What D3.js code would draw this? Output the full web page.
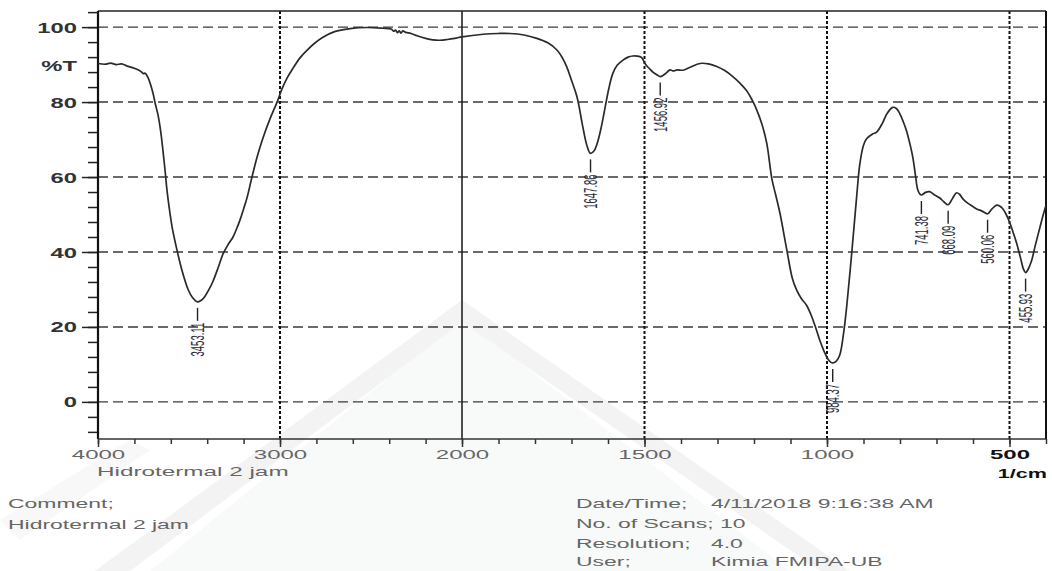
<!DOCTYPE html>
<html><head><meta charset="utf-8">
<script src="https://cdn.jsdelivr.net/npm/d3@7"></script>
<style>
body{margin:0;background:#fff}
svg{display:block}
text{font-family:"Liberation Sans",Arial,Helvetica,sans-serif}
</style></head>
<body><svg id="chart" width="1052" height="571"></svg>
<script>
// ---------- DATA ----------
const wavenumbers = [4000,3960,3930,3900,3870,3840,3810,3780,3760,3750,3740,3725,3710,3698,3685,3670,3655,3643,3630,3621,3605,3593,3566,3538,3505,3480,3453,3430,3412,3390,3368,3340,3313,3285,3258,3240,3220,3200,3181,3154,3125,3093,3055,3016,2989,2960,2929,2890,2852,2810,2764,2700,2615,2520,2434,2390,2375,2365,2355,2345,2335,2325,2310,2280,2247,2200,2160,2121,2080,2040,2000,1942,1900,1869,1830,1795,1765,1740,1725,1713,1700,1685,1669,1658,1648,1638,1628,1618,1609,1598,1587,1575,1559,1545,1532,1515,1507,1500,1494,1485,1477,1465,1457,1448,1440,1430,1422,1410,1395,1375,1348,1325,1302,1280,1258,1240,1220,1205,1192,1178,1165,1151,1140,1129,1110,1095,1083,1070,1056,1042,1030,1020,1008,998,990,984,975,965,955,946,932,919,910,900,891,875,864,848,835,820,810,801,790,782,772,765,757,752,746,741,730,719,705,691,680,668,655,645,637,627,618,600,590,575,560,548,535,527,519,510,500,490,481,470,462,456,450,440,430,416,408,400];
const transmittance = [90.3,90.1,90.4,90.0,90.2,89.6,89.2,88.6,88.0,87.6,87.7,86.5,84.5,82.4,79.5,76.5,72,67,61,56.5,50.5,46.7,40.5,35,30,27.8,26.7,27.2,28.2,30,32.2,35.8,39.5,42,44,46,48.5,51.5,54.5,60,65.5,70.5,75.5,80,83.5,86.5,89,91.8,93.8,95.7,97.3,98.8,99.6,99.9,99.7,99.5,98.9,99.2,98.5,99.0,98.4,99.0,98.6,98.3,97.7,97.0,96.6,96.5,96.7,97.0,97.4,98.1,98.3,98.3,97.9,97.0,95.8,93.9,91.8,89.4,85.8,81.4,73.4,68.5,66.3,67,69.5,73.5,78,83.5,87.6,89.8,91.2,92,92.3,92.2,91.8,90.5,89.7,88.8,88,87.2,86.8,87.2,87.8,88.6,88.3,88.6,88.5,89.3,90.3,90.2,89.5,88.4,86.8,85.2,83,80.5,77.8,74,69,59.5,55,50.4,40.5,33,29.8,27.5,25.8,22.8,19.5,16.5,13.5,11.5,10.6,10.4,10.8,12.5,18,25.5,40,54.5,63.5,68.5,70.3,71.5,72,74.4,77,78.6,78.3,77,74.5,72.3,68.5,65.3,60,56.8,55.5,55.2,55.9,56.1,55.2,54.4,53.4,52.6,54.5,55.8,55.4,54.1,53.3,52.1,51.5,50.9,50.2,51.5,52.5,52.3,51.6,50.2,48,45.2,42.5,38.5,35.5,34.5,35.2,37.5,41.5,46.8,49.8,52.5];

const peakWavenumbers = [3453.11,1647.86,1456.92,984.37,741.38,668.09,560.06,455.93];
const peakLabels = ["3453.11","1647.86","1456.92","984.37","741.38","668.09","560.06","455.93"];
const peakTransmittance = [26.7,66.3,86.8,10.4,55.2,52.6,50.2,34.5];

const yMajorTicks = [0,20,40,60,80,100];
const yMinorTicks = d3.range(-8,105,4);
const xMajorTicks = [4000,3000,2000,1500,1000,500];
const xMinorTicks = d3.range(4000,1999,-200).concat(d3.range(1900,399,-100));
const dottedGridX = [3000,1500,1000,500];
const solidGridX = [2000];

const xCaption = "Hidrotermal 2 jam";
const yTitle = "%T";
const xUnit = "1/cm";
const metaLeft = [["Comment;",""],["Hidrotermal 2 jam",""]];
const metaRight = [["Date/Time;","4/11/2018 9:16:38 AM"],["No. of Scans; 10",""],["Resolution;","4.0"],["User;","Kimia FMIPA-UB"]];

// ---------- LAYOUT ----------
const SX = 1.7; // horizontal stretch of text in the original scan
const L = 98, R = 1046, T = 11, B = 439;
const svg = d3.select("#chart");
const x = d3.scaleLinear().domain([4000,2000,400]).range([L,462,R]);
const y = d3.scaleLinear().domain([-9.9,104.3]).range([B,T]);

function stext(g, tx, ty, str, opts) {
  opts = opts || {};
  return g.append("text")
    .attr("transform", `translate(${tx},${ty}) scale(${opts.sx||SX},1)` + (opts.rot ? ` rotate(${opts.rot})` : ""))
    .attr("text-anchor", opts.anchor || "start")
    .attr("dy", opts.dy || "0.35em")
    .attr("font-size", opts.size || 13.5)
    .attr("font-weight", opts.weight || "normal")
    .attr("fill", opts.fill || "#666")
    .text(str);
}

// faint watermark
const wm = svg.append("g").attr("opacity", 0.45);
wm.append("path").attr("d","M150,571 L462,318 L790,571 Z").attr("fill","#eef6f0");
wm.append("path").attr("d","M95,571 L462,300 L850,571 L820,571 L462,322 L130,571 Z").attr("fill","#e6e6e6");
wm.append("path").attr("d","M0,520 L130,440 L150,450 L20,540 Z").attr("fill","#f0f0f0");

// grid
const grid = svg.append("g");
grid.selectAll("line.h").data(yMajorTicks).join("line")
  .attr("x1", L).attr("x2", R).attr("y1", d=>y(d)).attr("y2", d=>y(d))
  .attr("stroke","#3a3a3a").attr("stroke-width",1.4).attr("stroke-dasharray","10,5");
grid.selectAll("line.vd").data(dottedGridX).join("line")
  .attr("x1", d=>x(d)).attr("x2", d=>x(d)).attr("y1", T).attr("y2", B)
  .attr("stroke","#111").attr("stroke-width",2).attr("stroke-dasharray","3,2");
grid.selectAll("line.vs").data(solidGridX).join("line")
  .attr("x1", d=>x(d)).attr("x2", d=>x(d)).attr("y1", T).attr("y2", B)
  .attr("stroke","#222").attr("stroke-width",1.6);

// frame
svg.append("line").attr("x1",L).attr("x2",R).attr("y1",T).attr("y2",T).attr("stroke","#222").attr("stroke-width",1.4);
svg.append("line").attr("x1",R).attr("x2",R).attr("y1",T).attr("y2",B).attr("stroke","#111").attr("stroke-width",2);

// axes
const yMinorAxis = d3.axisLeft(y).tickValues(yMinorTicks).tickSize(10).tickFormat("");
const yMajorAxis = d3.axisLeft(y).tickValues(yMajorTicks).tickSize(16).tickFormat(d3.format("d"));
const gyMin = svg.append("g").attr("transform",`translate(${L},0)`).call(yMinorAxis);
const gyMaj = svg.append("g").attr("transform",`translate(${L},0)`).call(yMajorAxis);
[gyMin, gyMaj].forEach(g => {
  g.select(".domain").remove();
  g.selectAll(".tick line").attr("stroke","#222").attr("stroke-width",1.5);
});
gyMaj.selectAll(".tick text")
  .attr("x",0).attr("dy","0.36em")
  .attr("transform","translate(-21,0) scale(1.7,1)")
  .attr("font-size",14).attr("font-weight","bold").attr("fill","#333")
  .attr("font-family",'"Liberation Sans",Arial,sans-serif');
svg.append("line").attr("x1",L).attr("x2",L).attr("y1",T).attr("y2",B).attr("stroke","#111").attr("stroke-width",2.2);

const xMinorAxis = d3.axisBottom(x).tickValues(xMinorTicks).tickSize(5).tickFormat("");
const xMajorAxis = d3.axisBottom(x).tickValues(xMajorTicks).tickSize(8).tickFormat(d3.format("d"));
const gxMin = svg.append("g").attr("transform",`translate(0,${B})`).call(xMinorAxis);
const gxMaj = svg.append("g").attr("transform",`translate(0,${B})`).call(xMajorAxis);
[gxMin, gxMaj].forEach(g => {
  g.select(".domain").remove();
  g.selectAll(".tick line").attr("stroke","#333").attr("stroke-width",1.5);
});
gxMaj.selectAll(".tick text")
  .attr("y",0).attr("dy","0.35em")
  .attr("transform","translate(0,15) scale(1.78,1)")
  .attr("font-size",13.5).attr("fill",d => d===500 ? "#111" : "#666")
  .attr("font-weight",d => d===500 ? "bold" : "normal")
  .attr("font-family",'"Liberation Sans",Arial,sans-serif');
svg.append("line").attr("x1",L).attr("x2",R).attr("y1",B).attr("y2",B).attr("stroke","#333").attr("stroke-width",1.6);

// spectrum
const pts = wavenumbers.map((w,i)=>[w, transmittance[i]]);
svg.append("defs").append("clipPath").attr("id","clip").append("rect")
  .attr("x",L).attr("y",T).attr("width",R-L).attr("height",B-T);
svg.append("path").datum(pts)
  .attr("clip-path","url(#clip)")
  .attr("d", d3.line().x(d=>x(d[0])).y(d=>y(d[1])).curve(d3.curveCatmullRom.alpha(0.5)))
  .attr("fill","none").attr("stroke","#2a2a2a").attr("stroke-width",1.7);

// peak labels
const pk = svg.append("g");
peakWavenumbers.forEach((w,i) => {
  const px = x(w), py = y(peakTransmittance[i]);
  pk.append("line").attr("x1",px).attr("x2",px).attr("y1",py+6).attr("y2",py+19)
    .attr("stroke","#222").attr("stroke-width",1.4);
  stext(pk, px, py+21, peakLabels[i], {anchor:"end", rot:-90, size:9.5, fill:"#2a2a3a", sx:2.0});
});

// titles
stext(svg, 77, 66, yTitle, {anchor:"end", size:14, weight:"bold", fill:"#333", sx:1.7});
stext(svg, 1047, 473, xUnit, {anchor:"end", size:13.5, weight:"bold", fill:"#111", sx:1.6});
stext(svg, 97, 471, xCaption, {size:13.5, fill:"#666", sx:1.8});

// metadata
const leftY = [503, 524];
metaLeft.forEach((r,i)=> stext(svg, 8, leftY[i], r[0], {size:13.5}));
const rightY = [503, 523, 543, 561];
metaRight.forEach((r,i)=> {
  stext(svg, 576, rightY[i], r[0], {size:13.5});
  if (r[1]) stext(svg, 711, rightY[i], r[1], {size:13.5});
});
</script></body></html>
